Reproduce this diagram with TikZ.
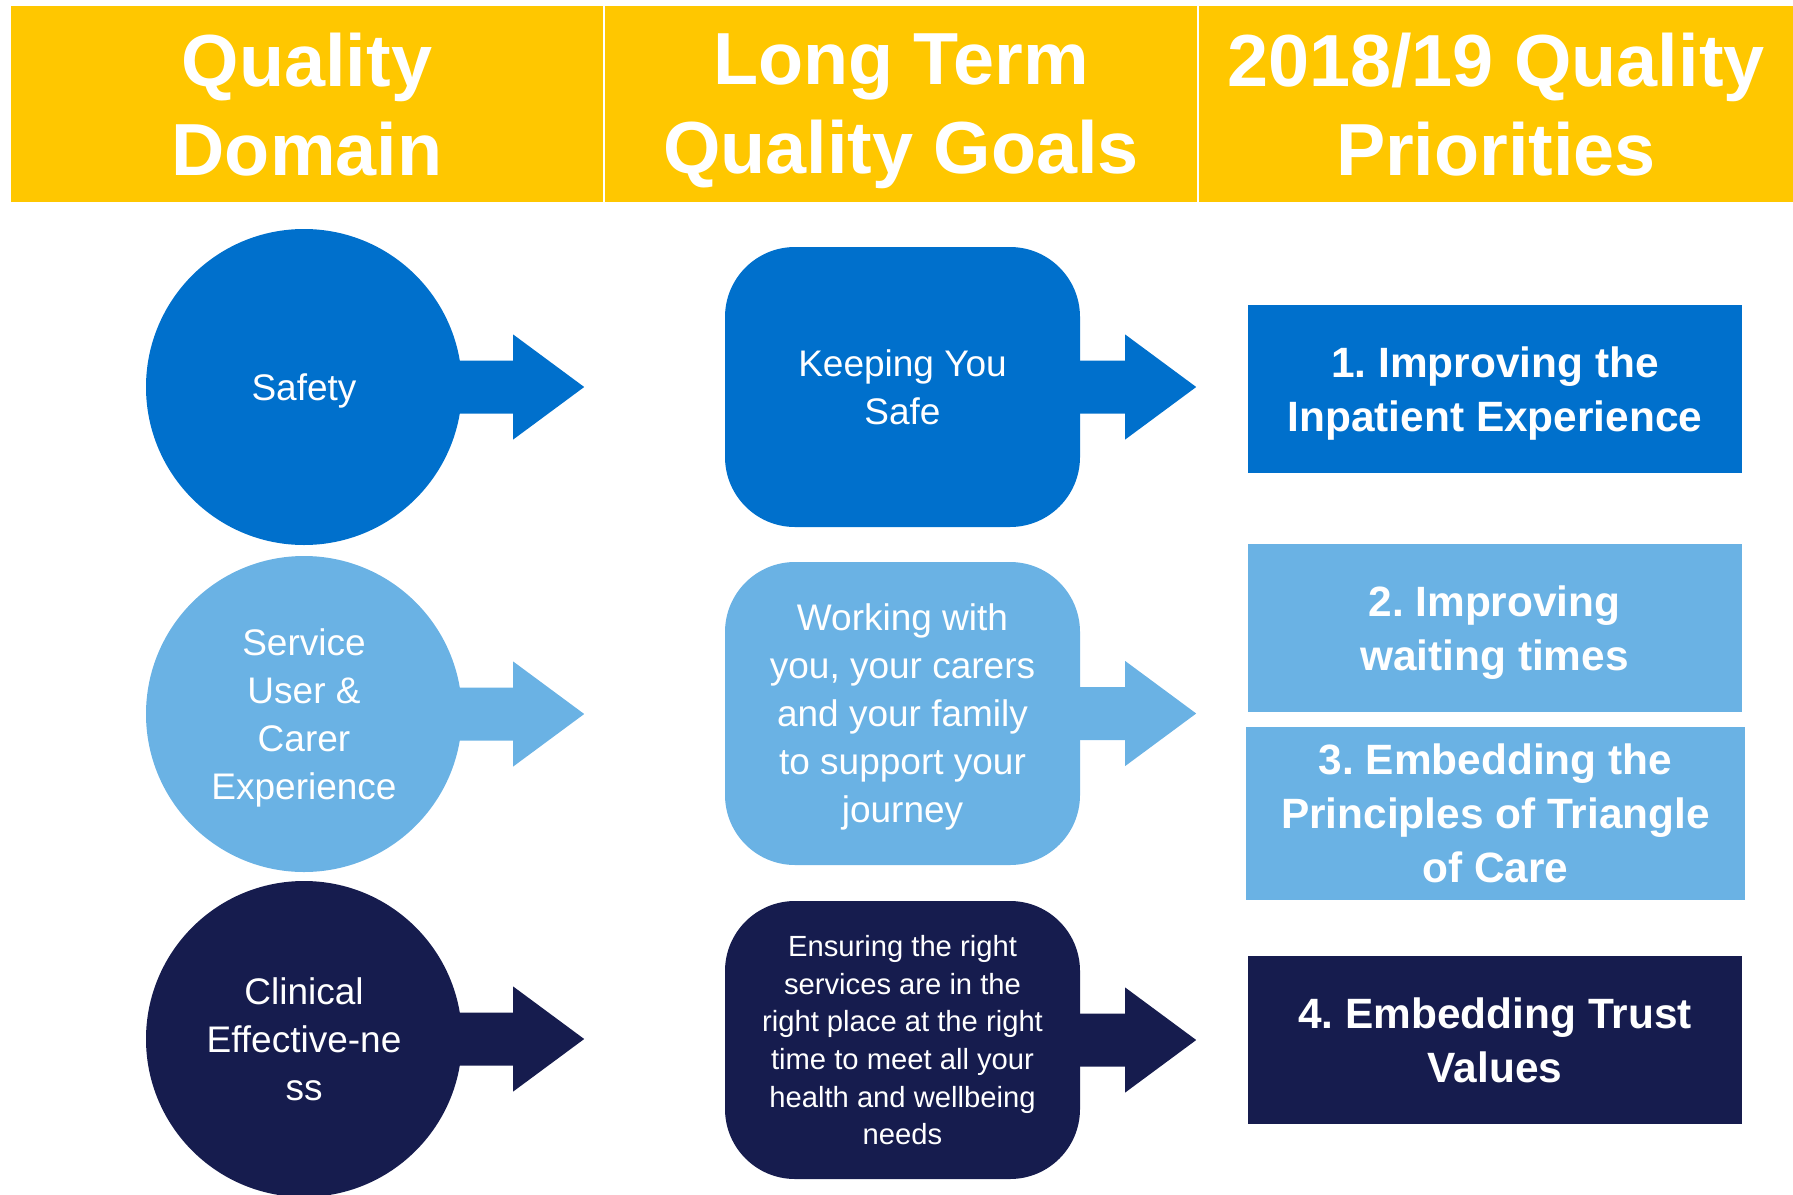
\documentclass[tikz,border=0pt]{standalone}
\usepackage{fontspec}
\setmainfont{Liberation Sans}
\usetikzlibrary{calc}
\definecolor{gold}{HTML}{FFC700}
\definecolor{safe}{HTML}{0070CC}
\definecolor{sky}{HTML}{6AB2E4}
\definecolor{navy}{HTML}{161C4E}
\frenchspacing

% block arrow leaving the east side of a node: #3 = head base, #4 = tip
\newcommand{\flowarrow}[4]{%
  \fill[#2] ($(#1.east)+(-12,-26.5)$) -| ($(#1.east)+(#3,-52.5)$)
    -- ($(#1.east)+(#4,0)$) -- ($(#1.east)+(#3,52.5)$)
    |- ($(#1.east)+(-12,26.5)$) -- cycle;}

\begin{document}
\begin{tikzpicture}[
  x=1pt,y=-1pt,
  every node/.style={text depth=0pt},
  hdr/.style={fill=gold,text=white,minimum height=196pt,inner sep=0pt,align=center,
              font=\bfseries\fontsize{73.8}{89}\selectfont},
  dom/.style={circle,minimum size=316pt,inner sep=0pt,text=white,align=center,
              font=\fontsize{37}{48}\selectfont},
  goal/.style={rounded corners=70pt,minimum width=355pt,inner sep=0pt,text=white,
               align=center,font=\fontsize{37}{48}\selectfont},
  prio/.style={minimum width=494pt,minimum height=168pt,inner sep=0pt,text=white,
               align=center,font=\bfseries\fontsize{42.4}{54}\selectfont},
]
\useasboundingbox (0,0) rectangle (1793,1194);

%---------------------------------------------------------------- header ---
\node[hdr,minimum width=592pt] (hdr1) at (307,104) {Quality\\Domain};
\node[hdr,minimum width=592pt] (hdr2) at (901,104) {Long Term\\Quality Goals};
\node[hdr,minimum width=594pt] (hdr3) at (1496,104) {2018/19 Quality\\Priorities};

%--------------------------------------------------------------- domains ---
\node[dom,fill=safe] (dom1) at (304,387) {Safety};
\node[dom,fill=sky] (dom2) at (304,714) {Service\\User \&\\Carer\\Experience};
\node[dom,fill=navy] (dom3) at (304,1039) {Clinical\\Effective-ne\\ss};

%----------------------------------------------------------------- goals ---
\node[goal,fill=safe,minimum height=280pt] (goal1) at (902.5,387)
  {Keeping You\\Safe};
\node[goal,fill=sky,minimum height=303pt] (goal2) at (902.5,713.5)
  {Working with\\you, your carers\\and your family\\to support your\\journey};
\node[goal,fill=navy,minimum height=278pt,font=\fontsize{29.2}{37.7}\selectfont]
  (goal3) at (902.5,1040)
  {Ensuring the right\\services are in the\\right place at the right\\time to meet all your\\health and wellbeing\\needs};

%------------------------------------------------------------ priorities ---
\node[prio,fill=safe] (prio1) at (1495,389) {1. Improving the\\Inpatient Experience};
\node[prio,fill=sky] (prio2) at (1494.5,628) {2. Improving\\waiting times};
\node[prio,fill=sky,minimum width=499pt,minimum height=173pt] (prio3) at (1495.5,813.5)
  {3. Embedding the\\Principles of Triangle\\of Care};
\node[prio,fill=navy] (prio4) at (1495,1040) {4. Embedding Trust\\Values};

%---------------------------------------------------------------- arrows ---
\flowarrow{dom1}{safe}{51}{122}
\flowarrow{dom2}{sky}{51}{122}
\flowarrow{dom3}{navy}{51}{122}
\flowarrow{goal1}{safe}{45}{116}
\flowarrow{goal2}{sky}{45}{116}
\flowarrow{goal3}{navy}{45}{116}

\end{tikzpicture}
\end{document}
